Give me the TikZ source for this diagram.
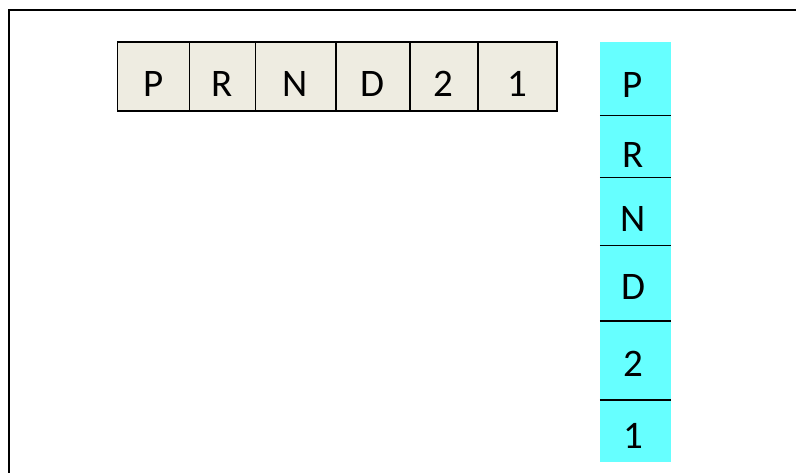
\documentclass[tikz,border=0pt]{standalone}
\usepackage{fontspec}
\setmainfont{Carlito}
\usetikzlibrary{calc}

\definecolor{gearTan}{HTML}{EEECE1}
\definecolor{gearCyan}{HTML}{66FFFF}

\begin{document}
\begin{tikzpicture}[
  x=1pt, y=-1pt,
  rowcell/.style={draw, line width=1.6pt, fill=gearTan, inner sep=0pt,
    minimum height=69pt, text height=40.6pt, text depth=0pt},
  colletter/.style={anchor=base, inner sep=0pt}
]
\useasboundingbox (0,0) rectangle (796,473);
\clip (0,0) rectangle (796,473);
\fontsize{39}{44}\selectfont

% --- Outer frame (runs off the right and bottom edges) ---
\draw[line width=2pt] (8.5,10) rectangle (820,500);

% --- Row cell helper: name, left x, right x, label ---
\newcommand{\RowCell}[4]{%
  \node[rowcell, minimum width={(#3-#2)*1pt}] (#1) at ({(#2+#3)/2},76.7) {#4};
}

% --- Horizontal row ---
\RowCell{hP}{117.3}{189.3}{P}
\RowCell{hR}{189.3}{255.3}{R}
\RowCell{hN}{255.3}{335.7}{N}
\RowCell{hD}{335.7}{410}{D}
\RowCell{hTwo}{410}{477.7}{2}
\RowCell{hOne}{477.7}{556.7}{1}

% --- Vertical column: fill, dividers, letters ---
\node[fill=gearCyan, inner sep=0pt, minimum width=71pt, minimum height=419.7pt]
  (column) at (635.5,251.8) {};
\foreach \y in {115.3,177.7,245.3,321,400}
  \draw[line width=1.5pt] (column.west |- 0,\y) -- (column.east |- 0,\y);

\node[colletter] (vP)   at (633,98)  {P};
\node[colletter] (vR)   at (633,168) {R};
\node[colletter] (vN)   at (633,232) {N};
\node[colletter] (vD)   at (633,300) {D};
\node[colletter] (vTwo) at (633,377) {2};
\node[colletter] (vOne) at (633,448) {1};

\end{tikzpicture}
\end{document}
